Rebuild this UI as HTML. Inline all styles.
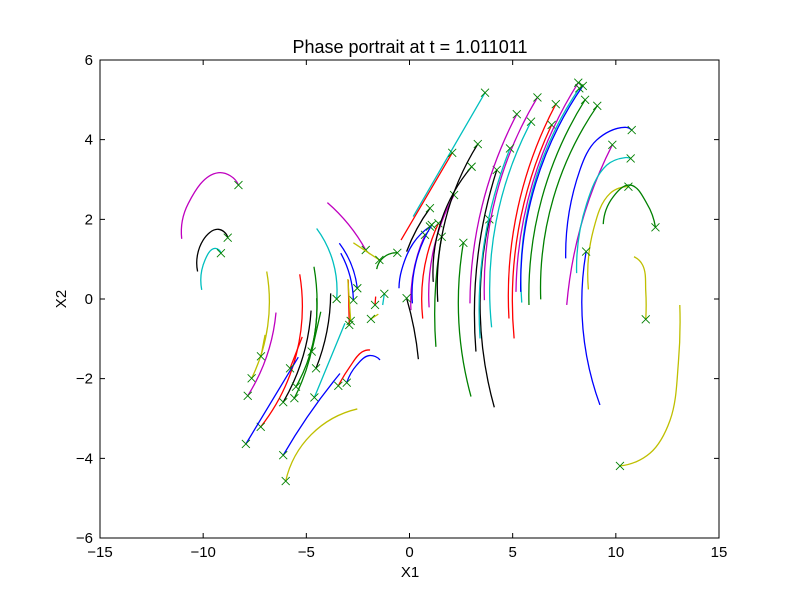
<!DOCTYPE html>
<html><head><meta charset="utf-8"><style>
body{margin:0;background:#fff;}
svg{display:block;font-family:"Liberation Sans","DejaVu Sans",sans-serif;}
</style></head><body>
<svg id="chart" width="800" height="600" xmlns="http://www.w3.org/2000/svg">
<rect width="800" height="600" fill="#fff"/>
<text x="410" y="53" text-anchor="middle" font-size="18">Phase portrait at t = 1.011011</text>
<text x="410" y="577" text-anchor="middle" font-size="15">X1</text>
<text x="66" y="299" text-anchor="middle" font-size="15" transform="rotate(-90 66 299)">X2</text>
<g id="marks"></g>
<g id="axes"></g>
</svg>
<script>
const xTicks = [-15,-10,-5,0,5,10,15];
const yTicks = [-6,-4,-2,0,2,4,6];
const curveColors = ['m','k','c','y','y','m','r','b','r','k','g','g','g','k','c','c','m','y','g','b','b','r','y','r','c','y','r','b','b','y',
 'c','r','k','b','m','b','r','m','g','k','k','k','g','k','k','m','m','c','c','r','r','m','c','b','g','g','b','m','c','y','g','b','y','y'];
const startX = [-11.04,-10.27,-10.07,-6.92,-7.0,-6.47,-5.32,-5.39,-5.2,-4.77,-4.63,-4.5,-4.3,-3.82,-4.5,-3.13,-3.98,-2.72,-1.59,-3.4,-3.33,-2.97,-2.99,-1.64,-1.3,-1.51,-1.91,-1.43,-3.37,-2.53,
 0.18,-0.41,-0.14,-0.51,0.07,0.14,0.64,0.95,1.28,1.15,1.37,0.43,2.98,4.11,3.22,2.93,3.63,3.42,3.98,4.82,5.07,5.16,5.44,5.39,5.79,6.36,7.57,7.62,8.1,8.67,9.39,9.23,10.88,13.1];
const startY = [1.51,0.69,0.23,0.69,-0.9,-0.34,0.62,-1.46,-0.95,-0.29,0.81,0.02,-0.32,0.14,1.77,-0.61,2.42,1.41,0.75,1.4,1.15,0.48,0.5,0.06,-0.15,-0.38,-1.28,-1.53,-1.87,-2.76,
 2.07,1.48,1.19,0.27,-0.28,-0.11,-0.49,-0.21,-1.2,0.43,-0.07,-1.51,-2.45,-2.72,-1.32,-0.11,-0.03,-0.99,-0.71,-0.49,-0.99,0.18,-0.09,0.18,-0.15,-0.01,1.02,-0.15,0.65,0.24,1.88,-2.66,1.06,-0.15];
const midX = [-10.72,-10.0,-9.91,-6.8,null,-6.9,-5.47,null,null,-5.2,-4.5,-4.6,null,-4.0,-3.61,null,-3.0,null,-1.1,-2.85,-2.9,null,null,null,null,null,-2.3,-1.95,-4.6,-4.34,
 null,null,0.4,-0.38,0.2,0.3,0.7,1.15,1.25,1.5,1.7,0.2,2.37,3.42,3.3,3.5,4.1,3.65,4.3,5.3,5.5,5.7,5.8,5.9,6.3,6.9,8.26,8.4,8.59,8.91,9.88,8.35,11.3,13.03];
const midY = [2.4,1.48,0.98,-0.28,null,-1.4,-1.36,null,null,-1.5,-0.44,-0.9,null,-0.8,0.73,null,1.9,null,1.1,0.9,0.6,null,null,null,null,null,-1.33,-1.42,-2.7,-3.21,
 null,null,1.8,0.73,0.7,0.9,0.7,1.2,0.2,1.9,1.9,-0.7,-0.11,-0.11,1.0,2.3,2.4,1.5,2.2,2.4,2.3,2.4,2.4,2.5,2.3,2.4,3.24,2.0,2.4,1.73,2.57,-0.11,0.85,-1.61];
const mid2X = [-9.27,-9.27,-9.43,null,null,null,null,null,null,null,null,null,null,null,null,null,null,null,null,null,null,null,null,null,null,null,-2.89,-2.56,null,null,
 null,null,null,0.18,null,null,null,null,null,null,null,null,null,null,null,null,null,null,null,null,null,null,null,null,null,null,9.07,null,9.56,9.72,10.69,null,11.45,12.63];
const mid2Y = [3.17,1.75,1.27,null,null,null,null,null,null,null,null,null,null,null,null,null,null,null,null,null,null,null,null,null,null,null,-1.7,-1.66,null,null,
 null,null,null,1.4,null,null,null,null,null,null,null,null,null,null,null,null,null,null,null,null,null,null,null,null,null,null,3.99,null,3.36,2.65,2.86,null,0.2,-3.04];
const mid3X = [null,null,null,null,null,null,null,null,null,null,null,null,null,null,null,null,null,null,null,null,null,null,null,null,null,null,null,null,null,null,
 null,null,null,null,null,null,null,null,null,null,null,null,null,null,null,null,null,null,null,null,null,null,null,null,null,null,10.45,null,10.45,null,11.5,null,null,11.66];
const mid3Y = [null,null,null,null,null,null,null,null,null,null,null,null,null,null,null,null,null,null,null,null,null,null,null,null,null,null,null,null,null,null,
 null,null,null,null,null,null,null,null,null,null,null,null,null,null,null,null,null,null,null,null,null,null,null,null,null,null,4.31,null,3.55,null,2.4,null,null,-3.87];
const endX = [-8.29,-8.81,-9.14,-7.65,-7.2,-7.84,-7.21,-7.93,-5.79,-6.12,-5.58,-5.5,-4.74,-4.53,-3.53,-4.61,-2.12,-1.46,-0.59,-2.53,-2.72,-2.92,-2.85,-1.67,-1.22,-1.87,-3.45,-3.04,-6.12,-6.0,
 3.66,2.07,0.99,0.99,0.75,1.08,1.4,2.16,1.56,3.01,3.31,-0.14,2.61,3.87,4.23,5.2,6.2,4.87,5.89,7.09,6.89,8.18,8.23,8.4,8.51,9.1,10.77,9.83,10.72,10.61,11.92,8.56,11.45,10.2];
const endY = [2.86,1.54,1.15,-1.99,-1.44,-2.43,-3.21,-3.64,-1.74,-2.59,-2.49,-2.2,-1.32,-1.74,0.0,-2.47,1.23,0.98,1.16,0.27,-0.03,-0.65,-0.55,-0.15,0.13,-0.5,-2.18,-2.1,-3.92,-4.57,
 5.18,3.67,2.28,1.82,1.61,1.86,1.9,2.61,1.56,3.32,3.89,0.02,1.41,2.0,3.24,4.64,5.06,3.78,4.45,4.89,4.37,5.43,5.29,5.35,5.0,4.85,4.24,3.87,3.53,2.82,1.8,1.19,-0.51,-4.19];
const colorMap = {b:'#0000ff',g:'#008000',r:'#ff0000',c:'#00bfbf',m:'#bf00bf',y:'#bfbf00',k:'#000000'};

const L=100,R=719,T=60,B=538;
const xs = v => L + (v - xTicks[0]) / (xTicks[xTicks.length-1]-xTicks[0]) * (R-L);
const ys = v => B - (v - yTicks[0]) / (yTicks[yTicks.length-1]-yTicks[0]) * (B-T);
const NS='http://www.w3.org/2000/svg';
const marks=document.getElementById('marks');
const axes=document.getElementById('axes');
function mk(tag,attrs,parent){const e=document.createElementNS(NS,tag);for(const k in attrs)e.setAttribute(k,attrs[k]);parent.appendChild(e);return e;}

function arc3(S,M,E){
  const ax=S[0],ay=S[1],bx=M[0],by=M[1],cx=E[0],cy=E[1];
  const d=2*(ax*(by-cy)+bx*(cy-ay)+cx*(ay-by));
  if(Math.abs(d)<1e-6) return `M${ax},${ay} L${cx},${cy}`;
  const ux=((ax*ax+ay*ay)*(by-cy)+(bx*bx+by*by)*(cy-ay)+(cx*cx+cy*cy)*(ay-by))/d;
  const uy=((ax*ax+ay*ay)*(cx-bx)+(bx*bx+by*by)*(ax-cx)+(cx*cx+cy*cy)*(bx-ax))/d;
  const r=Math.hypot(ax-ux,ay-uy);
  if(r>5000) return `M${ax},${ay} L${cx},${cy}`;
  const cross=(bx-ax)*(cy-by)-(by-ay)*(cx-bx);
  const sweep=cross>0?1:0;
  const as=Math.atan2(ay-uy,ax-ux),ae=Math.atan2(cy-uy,cx-ux);
  let span=sweep?ae-as:as-ae;
  span=((span%(2*Math.PI))+2*Math.PI)%(2*Math.PI);
  const large=span>Math.PI?1:0;
  return `M${ax},${ay} A${r},${r} 0 ${large} ${sweep} ${cx},${cy}`;
}
function nrm(v){const l=Math.hypot(v[0],v[1])||1;return [v[0]/l,v[1]/l];}
function smooth(pts){
  const n=pts.length,T=[];
  for(let i=1;i<n-1;i++){
    const u1=nrm([pts[i][0]-pts[i-1][0],pts[i][1]-pts[i-1][1]]);
    const u2=nrm([pts[i+1][0]-pts[i][0],pts[i+1][1]-pts[i][1]]);
    T[i]=nrm([u1[0]+u2[0],u1[1]+u2[1]]);
  }
  const refl=(u,t)=>{const dp=u[0]*t[0]+u[1]*t[1];return nrm([2*dp*u[0]-t[0],2*dp*u[1]-t[1]]);};
  T[0]=refl(nrm([pts[1][0]-pts[0][0],pts[1][1]-pts[0][1]]),T[1]);
  T[n-1]=refl(nrm([pts[n-1][0]-pts[n-2][0],pts[n-1][1]-pts[n-2][1]]),T[n-2]);
  let d=`M${pts[0][0]},${pts[0][1]}`;
  for(let i=0;i<n-1;i++){
    const len=Math.hypot(pts[i+1][0]-pts[i][0],pts[i+1][1]-pts[i][1])/3;
    const c1=[pts[i][0]+T[i][0]*len,pts[i][1]+T[i][1]*len];
    const c2=[pts[i+1][0]-T[i+1][0]*len,pts[i+1][1]-T[i+1][1]*len];
    d+=` C${c1[0]},${c1[1]} ${c2[0]},${c2[1]} ${pts[i+1][0]},${pts[i+1][1]}`;
  }
  return d;
}

for(let i=0;i<startX.length;i++){
  const pts=[[xs(startX[i]),ys(startY[i])]];
  if(midX[i]!==null) pts.push([xs(midX[i]),ys(midY[i])]);
  if(mid2X[i]!==null) pts.push([xs(mid2X[i]),ys(mid2Y[i])]);
  if(mid3X[i]!==null) pts.push([xs(mid3X[i]),ys(mid3Y[i])]);
  const ex=xs(endX[i]),ey=ys(endY[i]);
  pts.push([ex,ey]);
  let d;
  if(pts.length===2) d=`M${pts[0][0]},${pts[0][1]} L${ex},${ey}`;
  else if(pts.length===3) d=arc3(pts[0],pts[1],pts[2]);
  else d=smooth(pts);
  const p=mk('path',{d:d,fill:'none',stroke:colorMap[curveColors[i]],'stroke-width':1.3},marks);
  
  
  const m=mk('path',{d:`M${ex-4},${ey-4} L${ex+4},${ey+4} M${ex-4},${ey+4} L${ex+4},${ey-4}`,stroke:'#008000','stroke-width':0.9,fill:'none'},marks);
  
  
}

const frame=mk('rect',{x:L,y:T,width:R-L,height:B-T,fill:'none',stroke:'#000','stroke-width':1},axes);


xTicks.forEach(v=>{
  const x=xs(v);
  mk('path',{d:`M${x},${B} v-5 M${x},${T} v5`,stroke:'#000'},axes);
  const t=mk('text',{x:x,y:B+19,'text-anchor':'middle','font-size':15},axes);
  t.textContent=v<0?'\u2212'+(-v):String(v);
  
  
});
yTicks.forEach(v=>{
  const y=ys(v);
  mk('path',{d:`M${L},${y} h5 M${R},${y} h-5`,stroke:'#000'},axes);
  const t=mk('text',{x:L-7,y:y+5,'text-anchor':'end','font-size':15},axes);
  t.textContent=v<0?'\u2212'+(-v):String(v);
  
  
});
</script>
</body></html>
